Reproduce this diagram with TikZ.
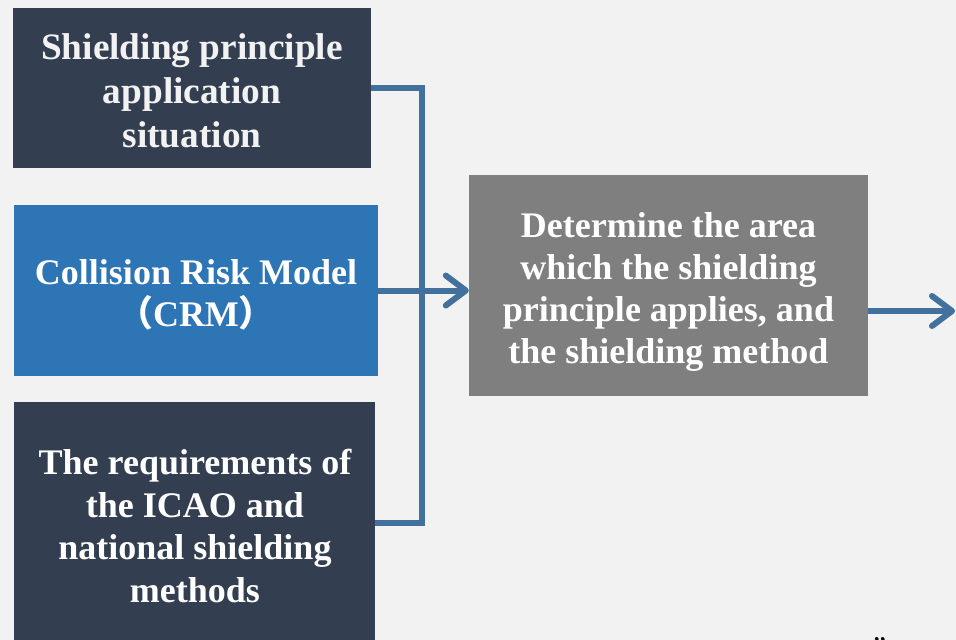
\documentclass[tikz,border=0pt]{standalone}
\usepackage{fontspec}
\setmainfont{Liberation Serif}
\newfontfamily\cjk{Noto Sans CJK SC}
\usetikzlibrary{arrows.meta}
\definecolor{bgc}{HTML}{F2F2F2}
\definecolor{navy}{HTML}{333F50}
\definecolor{bluebox}{HTML}{2E75B6}
\definecolor{graybox}{HTML}{7F7F7F}
\definecolor{linec}{HTML}{41719C}
\tikzset{
  box/.style={draw=none, inner sep=0pt},
  txt/.style={inner sep=0pt, align=center, text=white,
    font=\fontsize{36}{42}\selectfont\bfseries},
  txtbig/.style={txt, text=bgc, font=\fontsize{37.3}{44}\selectfont\bfseries},
  conn/.style={draw=linec, line width=6pt, line join=miter},
  arr/.style={conn, -{Straight Barb[round, length=20pt, width=30pt, line width=6pt]}}
}
\begin{document}
\begin{tikzpicture}[x=1pt,y=-1pt]
\fill[bgc] (0,0) rectangle (956,640);
\useasboundingbox (0,0) rectangle (956,640);
\node[box, fill=navy, minimum width=358pt, minimum height=160pt] (b1) at (192,88) {};
\node[box, fill=bluebox, minimum width=364pt, minimum height=171pt] (b2) at (196,290.5) {};
\node[box, fill=navy, minimum width=361pt, minimum height=244pt] (b3) at (194.5,524) {};
\node[box, fill=graybox, minimum width=399pt, minimum height=221pt] (b4) at (668.5,285.5) {};
\node[txtbig] (t1) at (192,91) {Shielding principle\\application\\situation};
\node[txt] (t2) at (196,295) {Collision Risk Model\\{\cjk\bfseries （}CRM{\cjk\bfseries ）}\hspace{36pt}};
\node[txt, font=\fontsize{36}{42.7}\selectfont\bfseries] (t3) at (195,526) {The requirements of\\the ICAO and\\national shielding\\methods};
\node[txt] (t4) at (668.5,292) {Determine the area\\which the shielding\\principle applies, and\\the shielding method};
\coordinate (j) at (421.5,290);
\coordinate (out) at (955,311);
\draw[conn] (b1.east) -| (j) |- ([yshift=1.5pt]b3.east);
\draw[arr] (b2.east) -- (b2.east -| b4.west);
\draw[arr] ([yshift=-25.5pt]b4.east) -- (out);
\node[font=\fontsize{30}{30}\selectfont\itshape, text=black, inner sep=0pt, anchor=base] (q) at (878,657) {”};
\end{tikzpicture}
\end{document}
